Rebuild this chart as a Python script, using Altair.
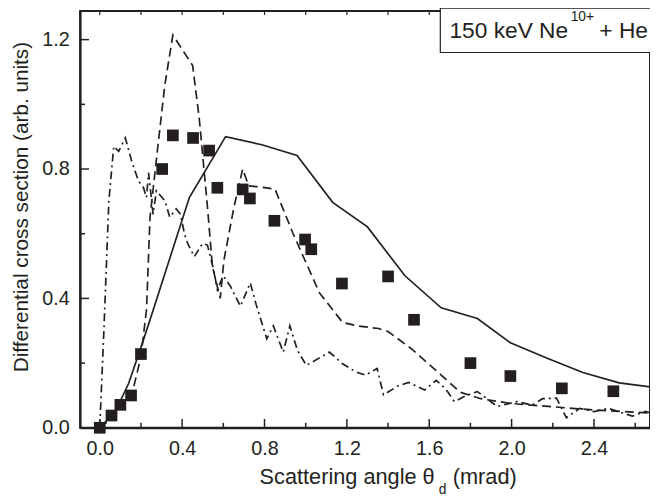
import altair as alt
import pandas as pd

# ---------------- data ----------------
exp_x = [0.0, 0.057, 0.10, 0.152, 0.20, 0.303, 0.355, 0.453, 0.531, 0.571, 0.694,
         0.729, 0.848, 0.997, 1.027, 1.176, 1.40, 1.526, 1.80, 1.994, 2.244, 2.494]
exp_y = [0.0, 0.038, 0.071, 0.10, 0.228, 0.80, 0.904, 0.896, 0.857, 0.742, 0.737,
         0.709, 0.640, 0.582, 0.552, 0.446, 0.468, 0.334, 0.20, 0.160, 0.122, 0.113]

solid_x = [0.0, 0.076, 0.14, 0.203, 0.267, 0.435, 0.611, 0.787, 0.958, 1.131, 1.30,
           1.482, 1.658, 1.834, 1.994, 2.17, 2.346, 2.522, 2.7]
solid_y = [0.0, 0.051, 0.137, 0.254, 0.379, 0.712, 0.90, 0.875, 0.842, 0.697, 0.621,
           0.470, 0.371, 0.338, 0.263, 0.216, 0.171, 0.139, 0.124]

dash_x = [0.0, 0.06, 0.155, 0.20, 0.227, 0.244, 0.283, 0.316, 0.355, 0.451, 0.483,
          0.523, 0.547, 0.585, 0.603, 0.651, 0.694, 0.723, 0.77, 0.851, 0.939, 1.067,
          1.179, 1.25, 1.354, 1.402, 1.514, 1.658, 1.75, 1.85, 2.0, 2.2, 2.4, 2.55, 2.7]
dash_y = [0.0, 0.03, 0.10, 0.22, 0.366, 0.651, 0.875, 1.06, 1.214, 1.12, 0.957,
          0.682, 0.499, 0.40, 0.519, 0.68, 0.80, 0.748, 0.745, 0.738, 0.60, 0.417,
          0.326, 0.315, 0.307, 0.297, 0.244, 0.163, 0.11, 0.09, 0.075, 0.065, 0.055, 0.05, 0.045]

dd_x = [0.0, 0.02, 0.044, 0.068, 0.092, 0.124, 0.155, 0.188, 0.212, 0.227, 0.237,
        0.259, 0.275, 0.316, 0.34, 0.371, 0.392, 0.411, 0.427, 0.459, 0.499, 0.523,
        0.555, 0.571, 0.60, 0.635, 0.683, 0.731, 0.76, 0.811, 0.843, 0.891, 0.923,
        0.96, 1.003, 1.05, 1.115, 1.179, 1.243, 1.29, 1.347, 1.378, 1.45, 1.5, 1.578,
        1.634, 1.68, 1.722, 1.78, 1.834, 1.88, 1.93, 2.026, 2.1, 2.15, 2.218, 2.266,
        2.33, 2.4, 2.47, 2.586, 2.65, 2.7]
dd_y = [0.0, 0.30, 0.70, 0.87, 0.855, 0.896, 0.824, 0.763, 0.743, 0.712, 0.789,
        0.66, 0.733, 0.702, 0.651, 0.677, 0.66, 0.60, 0.57, 0.529, 0.57, 0.565,
        0.483, 0.427, 0.47, 0.437, 0.376, 0.448, 0.38, 0.275, 0.315, 0.234, 0.315,
        0.24, 0.193, 0.21, 0.234, 0.198, 0.173, 0.163, 0.183, 0.102, 0.13, 0.14, 0.117,
        0.147, 0.12, 0.081, 0.10, 0.112, 0.09, 0.066, 0.081, 0.07, 0.09, 0.092, 0.031,
        0.06, 0.05, 0.06, 0.036, 0.051, 0.04]

x_major = [0.0, 0.4, 0.8, 1.2, 1.6, 2.0, 2.4]
x_minor = [0.2, 0.6, 1.0, 1.4, 1.8, 2.2, 2.6]
y_major = [0.0, 0.4, 0.8, 1.2]
y_minor = [0.2, 0.6, 1.0]

x_title = "Scattering angle θ"
x_sub = "d"
x_unit = "(mrad)"
y_title = "Differential cross section (arb. units)"
ann_main = "150 keV Ne"
ann_sup = "10+"
ann_tail = "+ He"

# ---------------- chart ----------------
W, H = 577, 422
FONT = "Liberation Sans"
INK = "#231f20"

xs = alt.Scale(domain=[-0.0955, 2.672], nice=False, zero=False)
ys = alt.Scale(domain=[0, 1.2885], nice=False, zero=False)

x_axis = alt.Axis(values=x_major, format=".1f", ticks=False, tickSize=0, grid=False,
                  domainWidth=2, domainColor=INK, labelFont=FONT, labelFontSize=20,
                  labelColor=INK, labelPadding=11, title=None, labelFlush=False)
y_axis = alt.Axis(values=y_major, format=".1f", ticks=False, tickSize=0, grid=False,
                  domainWidth=2, domainColor=INK, labelFont=FONT, labelFontSize=20,
                  labelColor=INK, labelPadding=11, title=None, labelFlush=False)

df_exp = pd.DataFrame({"x": exp_x, "y": exp_y})
df_solid = pd.DataFrame({"x": solid_x, "y": solid_y})
df_dash = pd.DataFrame({"x": dash_x, "y": dash_y})
df_dd = pd.DataFrame({"x": dd_x, "y": dd_y})


def xenc(field="x"):
    return alt.X(f"{field}:Q", scale=xs, axis=x_axis)


def yenc(field="y"):
    return alt.Y(f"{field}:Q", scale=ys, axis=y_axis)


def line(df, dash):
    kw = dict(color=INK, strokeWidth=1.7, clip=True)
    if dash:
        kw["strokeDash"] = dash
    return alt.Chart(df).mark_line(**kw).encode(x=xenc(), y=yenc())


# inward ticks
bx_major = alt.Chart(pd.DataFrame({"v": x_major})).mark_rule(color=INK, strokeWidth=1.5).encode(
    x=xenc("v"), y=alt.value(H), y2=alt.value(H - 9))
bx_minor = alt.Chart(pd.DataFrame({"v": x_minor})).mark_rule(color=INK, strokeWidth=1.5).encode(
    x=xenc("v"), y=alt.value(H), y2=alt.value(H - 5))
top_ticks = alt.Chart(pd.DataFrame({"v": x_major + x_minor})).mark_rule(color=INK, strokeWidth=1.2).encode(
    x=xenc("v"), y=alt.value(0), y2=alt.value(4))
ly_major = alt.Chart(pd.DataFrame({"v": y_major})).mark_rule(color=INK, strokeWidth=1.5).encode(
    y=yenc("v"), x=alt.value(0), x2=alt.value(9))
ly_minor = alt.Chart(pd.DataFrame({"v": y_minor})).mark_rule(color=INK, strokeWidth=1.5).encode(
    y=yenc("v"), x=alt.value(0), x2=alt.value(5))

solid = line(df_solid, None)
dashed = line(df_dash, [9, 5])
dashdot = line(df_dd, [8, 4, 2, 4])

squares = alt.Chart(df_exp).mark_square(size=140, color=INK, opacity=1, filled=True).encode(
    x=xenc(), y=yenc())


def txt(s, x, y, size, align="left", baseline="alphabetic", angle=None):
    kw = dict(font=FONT, fontSize=size, color=INK, align=align, baseline=baseline)
    if angle is not None:
        kw["angle"] = angle
    return alt.Chart(pd.DataFrame({"t": [s]})).mark_text(**kw).encode(
        text="t:N", x=alt.value(x), y=alt.value(y))


xt1 = txt(x_title, 359, 478.7, 22, align="right")
xt2 = txt(x_sub, 363, 489, 14)
xt3 = txt(x_unit, 377.3, 478.7, 22)
yt = txt(y_title, -59, 198.5, 21, align="center", baseline="middle", angle=270)

box = alt.Chart(pd.DataFrame({"t": [0]})).mark_rect(fill="white", stroke=INK, strokeWidth=1.2).encode(
    x=alt.value(364.7), x2=alt.value(585), y=alt.value(-3), y2=alt.value(42))
a1 = txt(ann_main, 374, 27, 23)
a2 = txt(ann_sup, 496.7, 10, 14)
a3 = txt(ann_tail, 525.7, 27, 23)

chart = alt.layer(
    bx_major, bx_minor, top_ticks, ly_major, ly_minor,
    dashdot, dashed, solid, squares,
    box, a1, a2, a3, xt1, xt2, xt3, yt,
).properties(
    width=W, height=H,
    padding={"left": 73, "right": 0, "top": 0, "bottom": 66},
    autosize=alt.AutoSizeParams(type="none"),
).configure_view(stroke=INK, strokeWidth=2)

chart.save("out.html", embed_options={"renderer": "svg", "actions": False})
